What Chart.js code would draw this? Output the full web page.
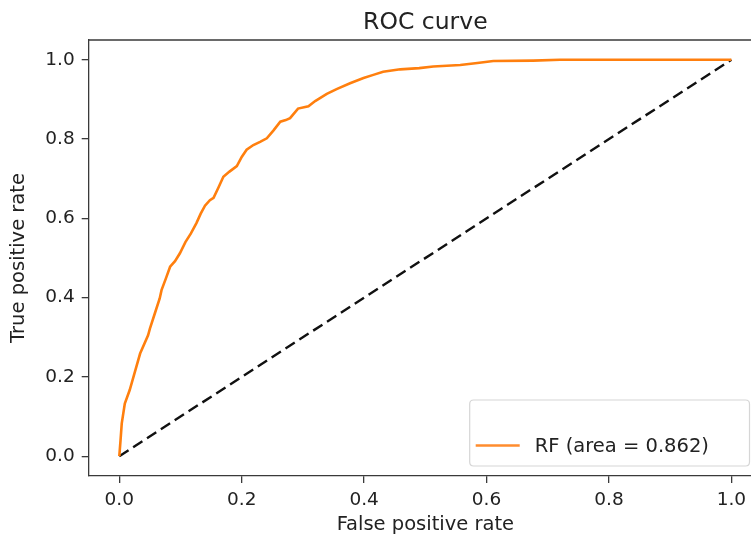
<!DOCTYPE html>
<html>
<head>
<meta charset="utf-8">
<script src="https://cdn.jsdelivr.net/npm/chart.js@4.4.1/dist/chart.umd.min.js"></script>
<style>
  html, body { margin: 0; padding: 0; background: #fff; overflow: hidden; width: 751px; height: 541px; }
  canvas { display: block; }
</style>
</head>
<body>
<canvas id="c" width="770" height="541" style="width:770px;height:541px"></canvas>
<script>
// ---- data ----
const fprRF = [0, 0.002, 0.004, 0.009, 0.017, 0.025, 0.034, 0.047, 0.050, 0.058, 0.066, 0.069, 0.076, 0.083, 0.091, 0.099, 0.108, 0.117, 0.126, 0.133, 0.140, 0.148, 0.154, 0.162, 0.170, 0.180, 0.192, 0.200, 0.208, 0.219, 0.230, 0.241, 0.252, 0.263, 0.272, 0.279, 0.292, 0.309, 0.320, 0.339, 0.355, 0.377, 0.399, 0.415, 0.431, 0.459, 0.490, 0.513, 0.557, 0.585, 0.611, 0.676, 0.720, 0.800, 0.900, 1.0];
const tprRF = [0, 0.040, 0.083, 0.133, 0.167, 0.210, 0.259, 0.305, 0.322, 0.360, 0.398, 0.419, 0.448, 0.478, 0.492, 0.512, 0.540, 0.562, 0.588, 0.612, 0.632, 0.646, 0.652, 0.678, 0.705, 0.718, 0.732, 0.755, 0.773, 0.785, 0.793, 0.802, 0.822, 0.844, 0.848, 0.853, 0.877, 0.883, 0.896, 0.914, 0.926, 0.941, 0.954, 0.962, 0.970, 0.976, 0.979, 0.983, 0.987, 0.992, 0.997, 0.998, 1.0, 1.0, 1.0, 1.0];
const diagX = [0, 1];
const diagY = [0, 1];
const tickValues = [0, 0.2, 0.4, 0.6, 0.8, 1.0];
const titleText = 'ROC curve';
const xLabel = 'False positive rate';
const yLabel = 'True positive rate';
const legendLabel = 'RF (area = 0.862)';

const FONT = "'DejaVu Sans', 'Liberation Sans', sans-serif";
Chart.defaults.font.family = FONT;
Chart.defaults.color = '#222';

const frameColor = '#3a3a3a';

const framePlugin = {
  id: 'frame',
  afterDatasetsDraw(chart) {
    const {ctx, chartArea: a} = chart;
    ctx.save();
    ctx.strokeStyle = frameColor;
    ctx.lineWidth = 1.3;
    ctx.beginPath();
    ctx.moveTo(a.left, a.top);
    ctx.lineTo(a.right, a.top);
    ctx.lineTo(a.right, a.bottom);
    ctx.stroke();
    ctx.restore();
  },
  afterDraw(chart) {
    const {ctx, chartArea: a} = chart;
    // title centred over the axes
    ctx.save();
    ctx.fillStyle = '#222';
    ctx.font = '23.5px ' + FONT;
    ctx.textAlign = 'center';
    ctx.textBaseline = 'alphabetic';
    ctx.fillText(titleText, (a.left + a.right) / 2, a.top - 11);
    ctx.restore();

    // legend box (lower right)
    const right = a.right - 12.5, bottom = a.bottom - 10;
    const left = a.left + 381, top = a.top + 360;
    const r = 4;
    ctx.save();
    ctx.beginPath();
    ctx.moveTo(left + r, top);
    ctx.lineTo(right - r, top);
    ctx.quadraticCurveTo(right, top, right, top + r);
    ctx.lineTo(right, bottom - r);
    ctx.quadraticCurveTo(right, bottom, right - r, bottom);
    ctx.lineTo(left + r, bottom);
    ctx.quadraticCurveTo(left, bottom, left, bottom - r);
    ctx.lineTo(left, top + r);
    ctx.quadraticCurveTo(left, top, left + r, top);
    ctx.closePath();
    ctx.fillStyle = 'rgba(255,255,255,0.8)';
    ctx.fill();
    ctx.strokeStyle = '#d6d6d6';
    ctx.lineWidth = 1.2;
    ctx.stroke();
    const ly = bottom - 20.5;
    ctx.strokeStyle = '#ff8c2e';
    ctx.lineWidth = 2.6;
    ctx.beginPath();
    ctx.moveTo(left + 6, ly);
    ctx.lineTo(left + 50, ly);
    ctx.stroke();
    ctx.fillStyle = '#222';
    ctx.font = '19.5px ' + FONT;
    ctx.textBaseline = 'middle';
    ctx.textAlign = 'left';
    ctx.fillText(legendLabel, left + 65, ly + 1);
    ctx.restore();
  }
};

const toPts = (xs, ys) => xs.map((x, i) => ({x: x, y: ys[i]}));

new Chart(document.getElementById('c'), {
  type: 'scatter',
  data: {
    datasets: [
      {
        label: legendLabel,
        data: toPts(fprRF, tprRF),
        showLine: true,
        borderColor: '#ff7f0e',
        borderWidth: 2.6,
        pointRadius: 0,
        tension: 0,
        fill: false
      },
      {
        label: '',
        data: toPts(diagX, diagY),
        showLine: true,
        borderColor: '#111',
        borderWidth: 2.4,
        borderDash: [11, 5.5],
        pointRadius: 0,
        tension: 0,
        fill: false
      }
    ]
  },
  options: {
    responsive: false,
    animation: false,
    layout: { padding: { left: 0, right: 8, top: 40, bottom: 0 } },
    plugins: {
      legend: { display: false },
      tooltip: { enabled: false },
      title: { display: false }
    },
    scales: {
      x: {
        type: 'linear',
        min: -0.05,
        max: 1.05,
        afterBuildTicks(scale) { scale.ticks = tickValues.map(v => ({value: v})); },
        afterFit(scale) { scale.height = 65; },
        ticks: {
          callback: v => Number(v).toFixed(1),
          font: { size: 18.5 },
          color: '#222',
          padding: 6,
          maxRotation: 0,
          autoSkip: false
        },
        grid: { display: true, drawOnChartArea: false, drawTicks: true, tickLength: 7, color: frameColor, lineWidth: 1.3 },
        border: { display: true, color: frameColor, width: 1.3 },
        title: { display: true, text: xLabel, font: { size: 19.5 }, color: '#222', padding: { top: 0, bottom: 4 } }
      },
      y: {
        type: 'linear',
        min: -0.05,
        max: 1.05,
        afterBuildTicks(scale) { scale.ticks = tickValues.map(v => ({value: v})); },
        afterFit(scale) { scale.width = 88.7; },
        ticks: {
          callback: v => Number(v).toFixed(1),
          font: { size: 18.5 },
          color: '#222',
          padding: 7,
          autoSkip: false
        },
        grid: { display: true, drawOnChartArea: false, drawTicks: true, tickLength: 7, color: frameColor, lineWidth: 1.3 },
        border: { display: true, color: frameColor, width: 1.3 },
        title: { display: true, text: yLabel, font: { size: 19.5 }, color: '#222', padding: { top: 7, bottom: 0 } }
      }
    }
  },
  plugins: [framePlugin]
});
</script>
</body>
</html>
